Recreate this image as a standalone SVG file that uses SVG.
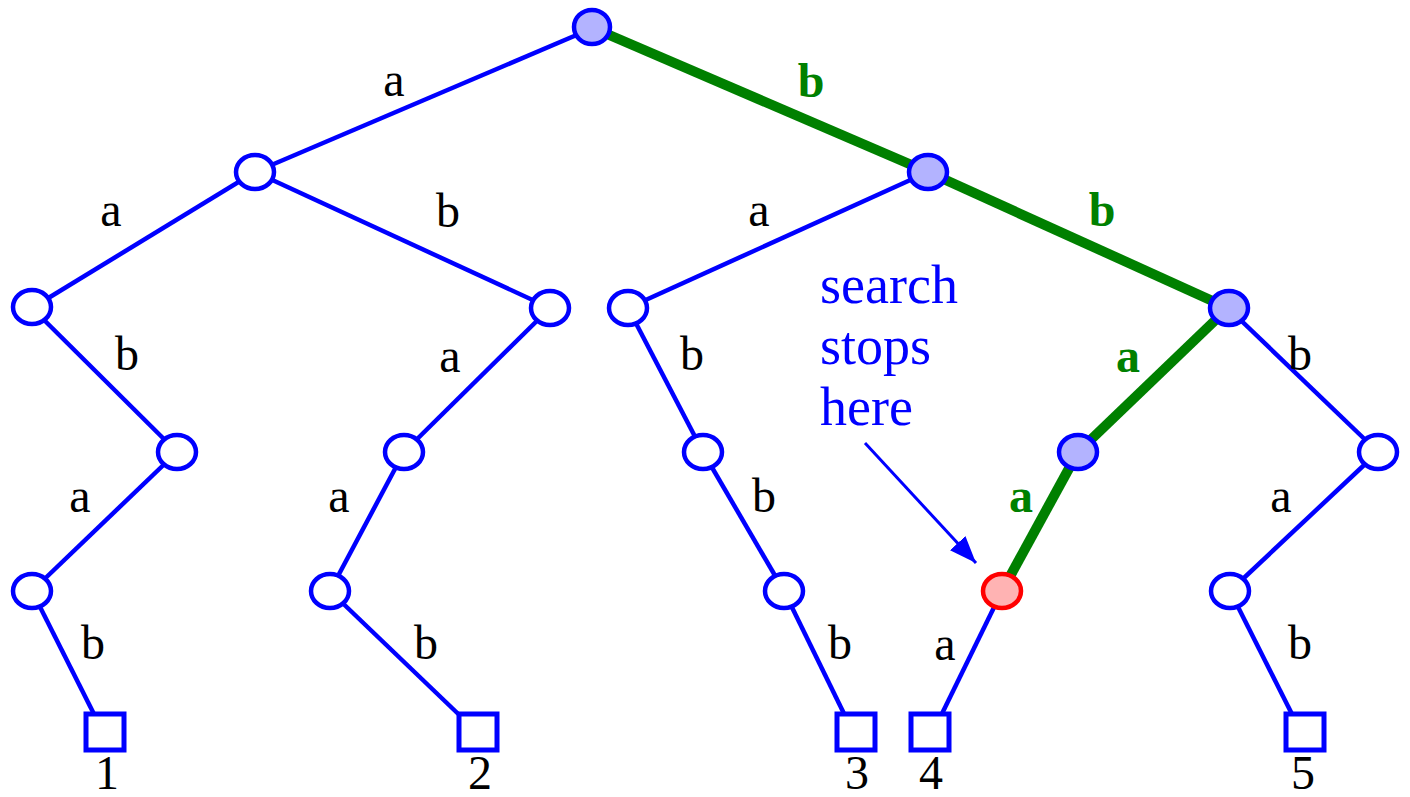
<svg xmlns="http://www.w3.org/2000/svg" width="1410" height="797" viewBox="0 0 1410 797">
<style>
.e{stroke:#0000ff;stroke-width:4.5;fill:none}
.g{stroke:#008000;stroke-width:10;fill:none}
.n{fill:#ffffff;stroke:#0000ff;stroke-width:4.5}
.f{fill:#b3b3ff;stroke:#0000ff;stroke-width:4.5}
.r{fill:#ffb3b3;stroke:#ff0000;stroke-width:4.5}
.l{fill:#ffffff;stroke:#0000ff;stroke-width:5}
text{font-family:'Liberation Serif','Times New Roman',serif;font-size:48px;text-anchor:middle}
.t{fill:#000000}
.gt{fill:#008000;font-weight:bold}
.bt{fill:#0000ff;text-anchor:start;font-size:54px}
</style>
<defs>
<marker id="ah" viewBox="0 0 10 10" refX="10" refY="5" markerWidth="9" markerHeight="7" orient="auto" markerUnits="strokeWidth" preserveAspectRatio="none">
<path d="M0,0 L10,5 L0,10 z" fill="#0000ff"/>
</marker>
</defs>
<g id="connectors">
<line class="e" x1="593" y1="28" x2="255" y2="172"/>
<line class="g" x1="593" y1="28" x2="928" y2="172"/>
<line class="e" x1="255" y1="172" x2="32" y2="308"/>
<line class="e" x1="255" y1="172" x2="550" y2="308"/>
<line class="e" x1="928" y1="172" x2="628" y2="308"/>
<line class="g" x1="928" y1="172" x2="1228" y2="308"/>
<line class="e" x1="32" y1="308" x2="177" y2="452"/>
<line class="e" x1="550" y1="308" x2="404" y2="452"/>
<line class="e" x1="628" y1="308" x2="703" y2="452"/>
<line class="g" x1="1228" y1="308" x2="1078" y2="452"/>
<line class="e" x1="1228" y1="308" x2="1378" y2="452"/>
<line class="e" x1="177" y1="452" x2="32" y2="591"/>
<line class="e" x1="404" y1="452" x2="330" y2="591"/>
<line class="e" x1="703" y1="452" x2="784" y2="591"/>
<line class="g" x1="1078" y1="452" x2="1002" y2="591"/>
<line class="e" x1="1378" y1="452" x2="1230" y2="591"/>
<line class="e" x1="32" y1="591" x2="102" y2="730"/>
<line class="e" x1="330" y1="591" x2="475" y2="730"/>
<line class="e" x1="784" y1="591" x2="852" y2="730"/>
<line class="e" x1="1002" y1="591" x2="934" y2="730"/>
<line class="e" x1="1230" y1="591" x2="1300" y2="730"/>
<line x1="865" y1="443" x2="976" y2="563" stroke="#0000ff" stroke-width="3" marker-end="url(#ah)"/>
</g>
<g id="n0"><ellipse class="f" cx="592" cy="27" rx="18" ry="17"/></g>
<g id="n1"><ellipse class="n" cx="255" cy="172" rx="19" ry="17"/></g>
<g id="n2"><ellipse class="f" cx="928" cy="172" rx="19" ry="17"/></g>
<g id="n3"><ellipse class="n" cx="32" cy="307" rx="19" ry="17"/></g>
<g id="n4"><ellipse class="n" cx="550" cy="308" rx="19" ry="17"/></g>
<g id="n5"><ellipse class="n" cx="628" cy="308" rx="19" ry="17"/></g>
<g id="n6"><ellipse class="f" cx="1229" cy="308" rx="19" ry="17"/></g>
<g id="n7"><ellipse class="n" cx="177" cy="452" rx="19" ry="17"/></g>
<g id="n8"><ellipse class="n" cx="404" cy="452" rx="19" ry="17"/></g>
<g id="n9"><ellipse class="n" cx="703" cy="452" rx="19" ry="17"/></g>
<g id="n10"><ellipse class="f" cx="1078" cy="452" rx="19" ry="17"/></g>
<g id="n11"><ellipse class="n" cx="1378" cy="452" rx="19" ry="17"/></g>
<g id="n12"><ellipse class="n" cx="32" cy="591" rx="19" ry="17"/></g>
<g id="n13"><ellipse class="n" cx="330" cy="591" rx="19" ry="17"/></g>
<g id="n14"><ellipse class="n" cx="784" cy="591" rx="19" ry="17"/></g>
<g id="n15"><ellipse class="r" cx="1002" cy="591" rx="19" ry="17"/></g>
<g id="n16"><ellipse class="n" cx="1230" cy="591" rx="19" ry="17"/></g>
<g font-family="Liberation Serif, serif">
<g id="leaf1"><rect class="l" x="86" y="714" width="38" height="36"/><text class="t" x="107" y="789">1</text></g>
<g id="leaf2"><rect class="l" x="459" y="714" width="38" height="36"/><text class="t" x="480" y="789">2</text></g>
<g id="leaf3"><rect class="l" x="837" y="714" width="38" height="36"/><text class="t" x="857" y="789">3</text></g>
<g id="leaf4"><rect class="l" x="911" y="714" width="38" height="36"/><text class="t" x="931" y="789">4</text></g>
<g id="leaf5"><rect class="l" x="1286" y="714" width="38" height="36"/><text class="t" x="1303" y="789">5</text></g>
<g id="labels">
<text class="t" x="394" y="96">a</text>
<text class="gt" x="811" y="97">b</text>
<text class="t" x="111" y="226">a</text>
<text class="t" x="448" y="227">b</text>
<text class="t" x="759" y="226">a</text>
<text class="gt" x="1102" y="226">b</text>
<text class="t" x="127" y="370">b</text>
<text class="t" x="450" y="372">a</text>
<text class="t" x="692" y="370">b</text>
<text class="gt" x="1128" y="372">a</text>
<text class="t" x="1300" y="370">b</text>
<text class="t" x="80" y="512">a</text>
<text class="t" x="339" y="512">a</text>
<text class="t" x="764" y="512">b</text>
<text class="gt" x="1021" y="512">a</text>
<text class="t" x="1281" y="512">a</text>
<text class="t" x="93" y="659">b</text>
<text class="t" x="426" y="659">b</text>
<text class="t" x="840" y="659">b</text>
<text class="t" x="945" y="660">a</text>
<text class="t" x="1300" y="659">b</text>
</g>
<g id="note">
<text class="bt" x="820" y="303">search</text>
<text class="bt" x="820" y="364">stops</text>
<text class="bt" x="820" y="425">here</text>
</g>
</g>
</svg>
